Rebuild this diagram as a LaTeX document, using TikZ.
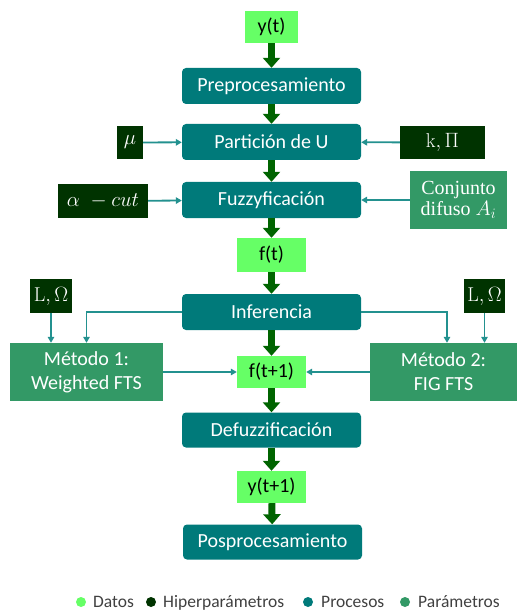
\documentclass[tikz,border=0pt]{standalone}
\usepackage{amsmath,amssymb}
\usepackage{fontspec}
\usepackage{xcolor}
\usepackage{tikz}
\usetikzlibrary{positioning, arrows.meta, calc}

\newfontfamily\carlito{Carlito}
\newfontfamily\serifa{Liberation Serif}

\definecolor{datos}{HTML}{66FF66}
\definecolor{hiper}{HTML}{003300}
\definecolor{procesos}{HTML}{007A7A}
\definecolor{parametros}{HTML}{339966}
\definecolor{flecha}{HTML}{006400}
\definecolor{conector}{HTML}{23918F}

\begin{document}
\begin{tikzpicture}[
    x=1pt, y=-1pt,
    proceso/.style={fill=procesos, rectangle, rounded corners=4pt, minimum width=179pt, minimum height=36pt, align=center, text=white, font=\carlito\fontsize{20}{24}\selectfont},
    dato/.style={fill=datos, rectangle, minimum width=69pt, minimum height=32pt, align=center, text=black, font=\carlito\fontsize{20}{24}\selectfont},
    hiperp/.style={fill=hiper, rectangle, minimum height=34pt, align=center, text=white, font=\fontsize{20}{24}\selectfont},
    param/.style={fill=parametros, rectangle, minimum height=58pt, align=center, text=white, font=\carlito\fontsize{20}{24}\selectfont},
    flujo/.style={draw=flecha, line width=7pt, -{Triangle[width=17pt, length=10pt]}},
    entrada/.style={draw=conector, line width=1.8pt, -{Triangle[width=6.5pt, length=6pt]}},
    leyenda/.style={anchor=base west, inner sep=0pt, text=black!75, font=\carlito\fontsize{17.5}{20}\selectfont}
]
    \useasboundingbox (0,0) rectangle (518,612);

    % ================= DATOS =================
    \node[dato, minimum width=53pt] (yt) at (271.5, 27) {y(t)};
    \node[dato, minimum height=34pt] (ft) at (271.5, 255) {f(t)};
    \node[dato] (ft1) at (271.5, 372) {f(t+1)};
    \node[dato] (yt1) at (271.5, 487) {y(t+1)};

    % ================= PROCESOS =================
    \node[proceso] (PRE) at (271.5, 86) {Preprocesamiento};
    \node[proceso] (PART) at (271.5, 142) {Partición de U};
    \node[proceso] (FUZZ) at (271.5, 200) {Fuzzyficación};
    \node[proceso] (INF) at (271.5, 312) {Inferencia};
    \node[proceso, minimum height=35pt] (DEFUZ) at (271.5, 430) {Defuzzificación};
    \node[proceso, minimum height=35pt] (POS) at (272.5, 542) {Posprocesamiento};

    % ================= HIPERPARAMETROS =================
    \node[hiperp, minimum width=26pt, minimum height=33pt] (mu) at (130, 142.5) {$\mu$};
    \node[hiperp, minimum width=85pt, minimum height=33pt] (kpi) at (442.5, 142.5) {$\mathrm{k},\Pi$};
    \node[hiperp, minimum width=90pt] (acut) at (103, 201) {$\alpha\ - cut$};
    \node[hiperp, minimum width=42pt] (L1) at (51, 296) {$\mathrm{L},\Omega$};
    \node[hiperp, minimum width=41pt] (L2) at (484.5, 296) {$\mathrm{L},\Omega$};

    % ================= PARAMETROS =================
    \node[param, minimum width=97pt, font=\serifa\fontsize{20}{21}\selectfont] (conj) at (458.5, 200) {Conjunto\\difuso $A_i$};
    \node[param, minimum width=153pt] (M1) at (86.5, 372) {Método 1:\\Weighted FTS};
    \node[param, minimum width=147pt] (M2) at (443.5, 372) {Método 2:\\FIG FTS};

    % ================= FLUJO PRINCIPAL =================
    \draw[flujo] (yt) -- (PRE);
    \draw[flujo] (PRE) -- (PART);
    \draw[flujo] (PART) -- (FUZZ);
    \draw[flujo] (FUZZ) -- (ft);
    \draw[flujo] (ft) -- (INF);
    \draw[flujo] (INF) -- (ft1);
    \draw[flujo] (ft1) -- (DEFUZ);
    \draw[flujo] (DEFUZ) -- (yt1);
    \draw[flujo] (yt1) -- (POS);

    % ================= ENTRADAS =================
    \draw[entrada] (mu) -- (PART);
    \draw[entrada] (kpi) -- (PART);
    \draw[entrada] (acut) -- (FUZZ);
    \draw[entrada] (conj) -- (FUZZ);

    % Inferencia - Metodos
    \draw[entrada] (INF.west) -| (M1.north);
    \draw[entrada] (INF.east) -| ([xshift=3.5pt]M2.north);
    \draw[entrada] (L1) -- (L1 |- M1.north);
    \draw[entrada] (L2) -- (L2 |- M2.north);
    \draw[entrada] (M1) -- (ft1);
    \draw[entrada] (M2) -- (ft1);

    % ================= LEYENDA =================
    \fill[datos] (81, 602) circle (5pt);
    \node[leyenda] (l_datos) at (93, 607) {Datos};
    \fill[hiper] (151, 602) circle (5pt);
    \node[leyenda] (l_hiper) at (163, 607) {Hiperparámetros};
    \fill[procesos] (308, 602) circle (5pt);
    \node[leyenda] (l_proc) at (321, 607) {Procesos};
    \fill[parametros] (405, 602) circle (5pt);
    \node[leyenda] (l_param) at (418, 607) {Parámetros};

\end{tikzpicture}
\end{document}
